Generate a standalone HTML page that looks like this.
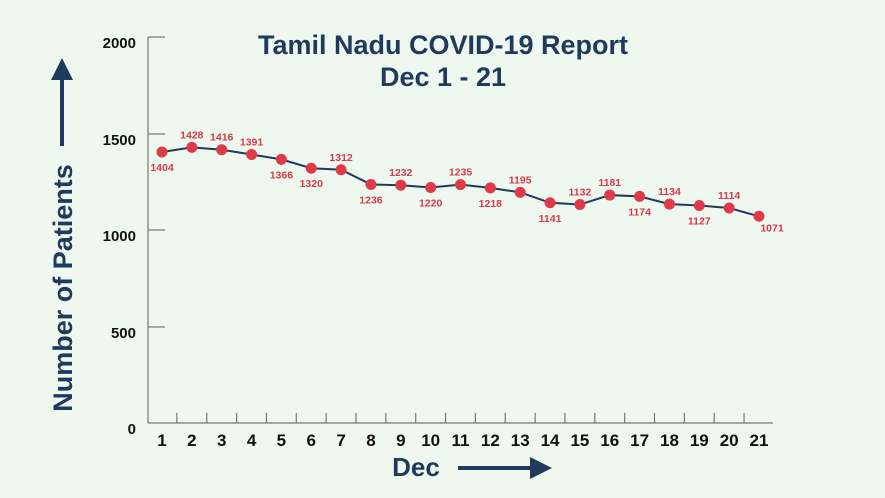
<!DOCTYPE html>
<html><head><meta charset="utf-8"><style>
html,body{margin:0;padding:0;background:#eff8ef;}
svg{display:block;font-family:"Liberation Sans",Arial,sans-serif;}
</style></head><body>
<svg width="885" height="498" viewBox="0 0 885 498" xmlns="http://www.w3.org/2000/svg">
<rect width="885" height="498" fill="#eff8ef"/>
<text x="443" y="54" text-anchor="middle" font-size="27" font-weight="bold" fill="#1f3a5c">Tamil Nadu COVID-19 Report</text>
<text x="443" y="86" text-anchor="middle" font-size="27" font-weight="bold" fill="#1f3a5c">Dec 1 - 21</text>
<g stroke="#777" stroke-width="1.2" fill="none">
<line x1="148" y1="37" x2="148" y2="423"/>
<line x1="148" y1="423" x2="773" y2="423"/>
<line x1="148" y1="37" x2="165" y2="37"/>
<line x1="148" y1="134" x2="165" y2="134"/>
<line x1="148" y1="230" x2="165" y2="230"/>
<line x1="148" y1="327" x2="165" y2="327"/>
</g>
<g id="xt" stroke="#777" stroke-width="1.2"></g>
<g font-size="15" font-weight="bold" fill="#111" text-anchor="end">
<text x="136" y="48">2000</text><text x="136" y="145">1500</text><text x="136" y="241">1000</text><text x="136" y="338">500</text><text x="136" y="434">0</text>
</g>
<g id="xl" font-size="17" font-weight="bold" fill="#111" text-anchor="middle"></g>
<text transform="translate(72,288) rotate(-90)" text-anchor="middle" font-size="27" font-weight="bold" fill="#1f3a5c">Number of Patients</text>
<line x1="62" y1="146" x2="62" y2="78" stroke="#1f3a5c" stroke-width="4"/>
<polygon points="51,80 73,80 62,58" fill="#1f3a5c"/>
<text x="416" y="476" text-anchor="middle" font-size="26" font-weight="bold" fill="#1f3a5c">Dec</text>
<line x1="458" y1="468" x2="532" y2="468" stroke="#1f3a5c" stroke-width="4"/>
<polygon points="530,457 530,479 552,468" fill="#1f3a5c"/>
<polyline id="ln" fill="none" stroke="#1f3a5c" stroke-width="2"/>
<g id="pts"></g>
</svg>
<script>
var v=[1404,1428,1416,1391,1366,1320,1312,1236,1232,1220,1235,1218,1195,1141,1132,1181,1174,1134,1127,1114,1071];
var up=[0,1,1,1,0,0,1,0,1,0,1,0,1,0,1,1,0,1,0,1,0];
var s="",p="",t="",l="";
for(var i=0;i<21;i++){var x=162+i*29.85,y=423-v[i]*0.193;p+=x+","+y+" ";
s+='<circle cx="'+x+'" cy="'+y+'" r="5.5" fill="#e03a48"/>';
var lx=x,ly=up[i]?y-9:y+19;if(i==20){lx=x+13;ly=y+15;}
s+='<text x="'+lx+'" y="'+ly+'" text-anchor="middle" font-size="10.5" font-weight="bold" fill="#d8394a">'+v[i]+'</text>';
l+='<text x="'+x+'" y="446">'+(i+1)+'</text>';
if(i<20){var tx=x+14.9;t+='<line x1="'+tx+'" y1="413" x2="'+tx+'" y2="423"/>';}}
document.getElementById('ln').setAttribute('points',p);
document.getElementById('pts').innerHTML=s;
document.getElementById('xt').innerHTML=t;
document.getElementById('xl').innerHTML=l;
</script>
</body></html>
